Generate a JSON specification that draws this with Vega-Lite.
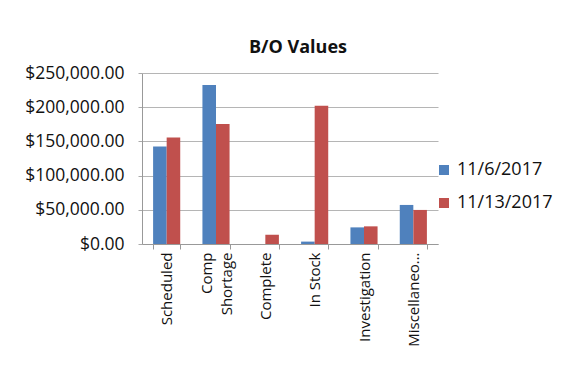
{
  "$schema": "https://vega.github.io/schema/vega-lite/v6.json",
  "autosize": {"type": "none"},
  "padding": {"left": 142, "top": 73, "right": 136, "bottom": 121},
  "width": 296,
  "height": 171,
  "background": "white",
  "title": {"text": "B/O Values", "font": "Open Sans", "fontSize": 18, "fontWeight": "bold", "color": "#111", "offset": 7, "dx": 8},
  "data": {"values": [
    {"category": "Scheduled", "date": "11/6/2017", "value": 142600},
    {"category": "Scheduled", "date": "11/13/2017", "value": 155800},
    {"category": "Comp Shortage", "date": "11/6/2017", "value": 232400},
    {"category": "Comp Shortage", "date": "11/13/2017", "value": 175300},
    {"category": "Complete", "date": "11/6/2017", "value": 0},
    {"category": "Complete", "date": "11/13/2017", "value": 13600},
    {"category": "In Stock", "date": "11/6/2017", "value": 3500},
    {"category": "In Stock", "date": "11/13/2017", "value": 202200},
    {"category": "Investigation", "date": "11/6/2017", "value": 24300},
    {"category": "Investigation", "date": "11/13/2017", "value": 25800},
    {"category": "Miscellaneous", "date": "11/6/2017", "value": 57100},
    {"category": "Miscellaneous", "date": "11/13/2017", "value": 49800}
  ]},
  "mark": {"type": "bar"},
  "encoding": {
    "x": {
      "field": "category", "type": "nominal", "sort": null,
      "scale": {"paddingInner": 0.45, "paddingOuter": 0.225},
      "axis": {
        "title": null, "labelAngle": -90, "labelAlign": "right", "labelBaseline": "middle",
        "labelFont": "Open Sans", "labelFontSize": 15, "labelColor": "#111", "labelLimit": 200,
        "labelPadding": 3, "labelLineHeight": 20, "tickBand": "extent", "tickSize": 5, "tickColor": "#999",
        "domainColor": "#999",
        "labelOffset": {"condition": {"test": "datum.value == 'Comp Shortage'", "value": -10}, "value": 0},
        "labelExpr": "datum.value == 'Comp Shortage' ? ['Comp', 'Shortage'] : datum.value == 'Miscellaneous' ? 'Miscellaneo…' : datum.value"
      }
    },
    "xOffset": {"field": "date", "type": "nominal", "sort": ["11/6/2017", "11/13/2017"]},
    "y": {
      "field": "value", "type": "quantitative",
      "scale": {"domain": [0, 250000]},
      "axis": {
        "title": null, "format": "$,.2f", "values": [0, 50000, 100000, 150000, 200000, 250000],
        "labelFont": "Open Sans", "labelFontSize": 17.5, "labelColor": "#111", "labelPadding": 14,
        "tickSize": 4, "tickColor": "#aaa", "gridColor": "#b5b5b5", "domainColor": "#999"
      }
    },
    "color": {
      "field": "date", "type": "nominal", "sort": ["11/6/2017", "11/13/2017"],
      "scale": {"range": ["#4F81BD", "#C0504D"]},
      "legend": {
        "title": null, "orient": "none", "legendX": 293, "legendY": 88,
        "symbolType": "square", "symbolSize": 100, "symbolStrokeWidth": 0,
        "labelFont": "Open Sans", "labelFontSize": 18, "labelColor": "#111", "rowPadding": 15
      }
    }
  },
  "config": {"view": {"stroke": null}}
}
